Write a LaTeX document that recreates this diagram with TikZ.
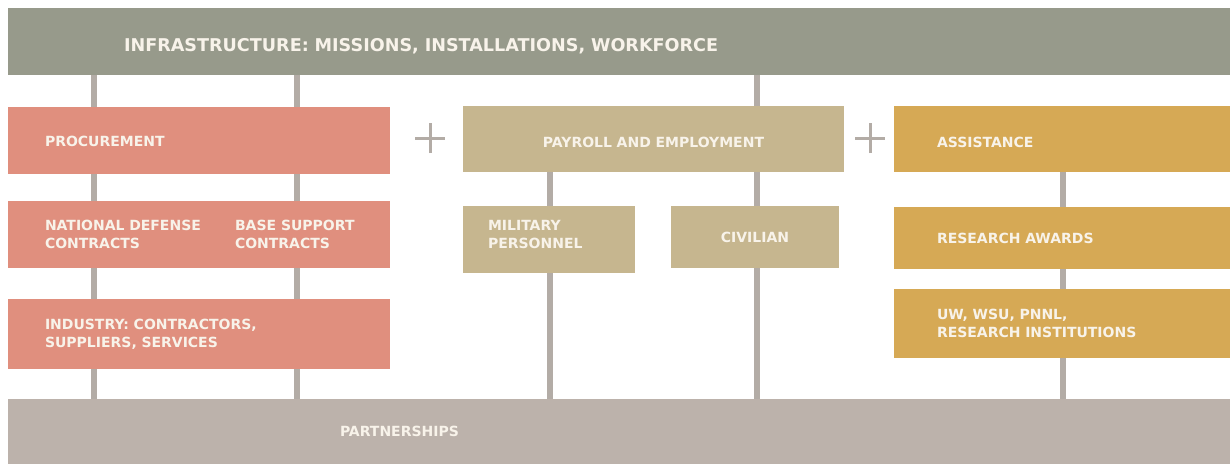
\documentclass[tikz,border=0pt]{standalone}
\usepackage{fontspec}
\setmainfont{DejaVu Sans}
\usetikzlibrary{backgrounds}
\definecolor{topc}{HTML}{979A8B}
\definecolor{procc}{HTML}{E08F7E}
\definecolor{payc}{HTML}{C6B68F}
\definecolor{assc}{HTML}{D6A955}
\definecolor{partc}{HTML}{BCB2AB}
\definecolor{linec}{HTML}{B3ACA6}
\definecolor{txtc}{HTML}{F8F3EA}
\begin{document}
\begin{tikzpicture}[x=1pt,y=-1pt,
  box/.style={rectangle, anchor=north west, inner ysep=0pt, outer sep=0pt, align=left,
    text=txtc, font=\bfseries\fontsize{14}{18}\selectfont},
  conn/.style={draw=linec, line width=6.5pt},
  plusmark/.style={draw=linec, line width=3pt}]
\useasboundingbox (0,0) rectangle (1230,464);
% top bar
\node[box, fill=topc, minimum height=67pt, inner xsep=116pt, text width=990pt,
  text height=19.8pt, text depth=0pt,
  font=\bfseries\fontsize{17.6}{22}\selectfont] (top) at (8,8)
  {INFRASTRUCTURE: MISSIONS, INSTALLATIONS, WORKFORCE};
% partnerships
\node[box, fill=partc, minimum height=65pt, inner xsep=332pt, text width=558pt] (part) at (8,399)
  {PARTNERSHIPS};
% procurement column
\node[box, fill=procc, minimum height=67pt, inner xsep=37pt, text width=308pt,
  text height=12pt, text depth=0pt] (proc) at (8,107)
  {PROCUREMENT};
\node[box, fill=procc, minimum height=67pt, inner xsep=37pt, text width=308pt] (natl) at (8,201)
  {NATIONAL DEFENSE\\CONTRACTS};
\node[box, anchor=west, inner xsep=0pt] (base) at (235,234.5)
  {BASE SUPPORT\\CONTRACTS};
\node[box, fill=procc, minimum height=70pt, inner xsep=37pt, text width=308pt] (ind) at (8,299)
  {INDUSTRY: CONTRACTORS,\\SUPPLIERS, SERVICES};
% payroll column
\node[box, fill=payc, minimum height=66pt, inner xsep=0pt, text width=381pt, align=center,
  text height=16.2pt, text depth=0pt] (pay) at (463,106)
  {PAYROLL AND EMPLOYMENT};
\node[box, fill=payc, minimum height=67pt, inner xsep=25pt, text width=122pt,
  text height=10.2pt, text depth=29pt] (mil) at (463,206)
  {MILITARY\\PERSONNEL};
\node[box, fill=payc, minimum height=62pt, inner xsep=0pt, text width=168pt, align=center] (civ) at (671,206)
  {CIVILIAN};
% assistance column
\node[box, fill=assc, minimum height=66pt, inner xsep=43pt, text width=250pt,
  text height=16.2pt, text depth=0pt] (ass) at (894,106)
  {ASSISTANCE};
\node[box, fill=assc, minimum height=62pt, inner xsep=43pt, text width=250pt] (res) at (894,207)
  {RESEARCH AWARDS};
\node[box, fill=assc, minimum height=69pt, inner xsep=43pt, text width=250pt] (uw) at (894,289)
  {UW, WSU, PNNL,\\RESEARCH INSTITUTIONS};
% connectors
\begin{scope}[on background layer]
  \fill[white] (0,0) rectangle (1230,464);
  \coordinate (x1) at (94,0);
  \coordinate (x2) at (297,0);
  \coordinate (x3) at (757,0);
  \coordinate (x4) at (550,0);
  \coordinate (x5) at (1063,0);
  \draw[conn] (top.south -| x1) -- (part.north -| x1);
  \draw[conn] (top.south -| x2) -- (part.north -| x2);
  \draw[conn] (top.south -| x3) -- (part.north -| x3);
  \draw[conn] (pay.south -| x4) -- (part.north -| x4);
  \draw[conn] (ass.south -| x5) -- (part.north -| x5);
\end{scope}
% plus signs
\coordinate (p1) at (430,138);
\coordinate (p2) at (870,138);
\foreach \p in {p1,p2} {
  \draw[plusmark] ([xshift=-15pt]\p) -- ([xshift=15pt]\p);
  \draw[plusmark] ([yshift=-15pt]\p) -- ([yshift=15pt]\p);
}
\end{tikzpicture}
\end{document}
